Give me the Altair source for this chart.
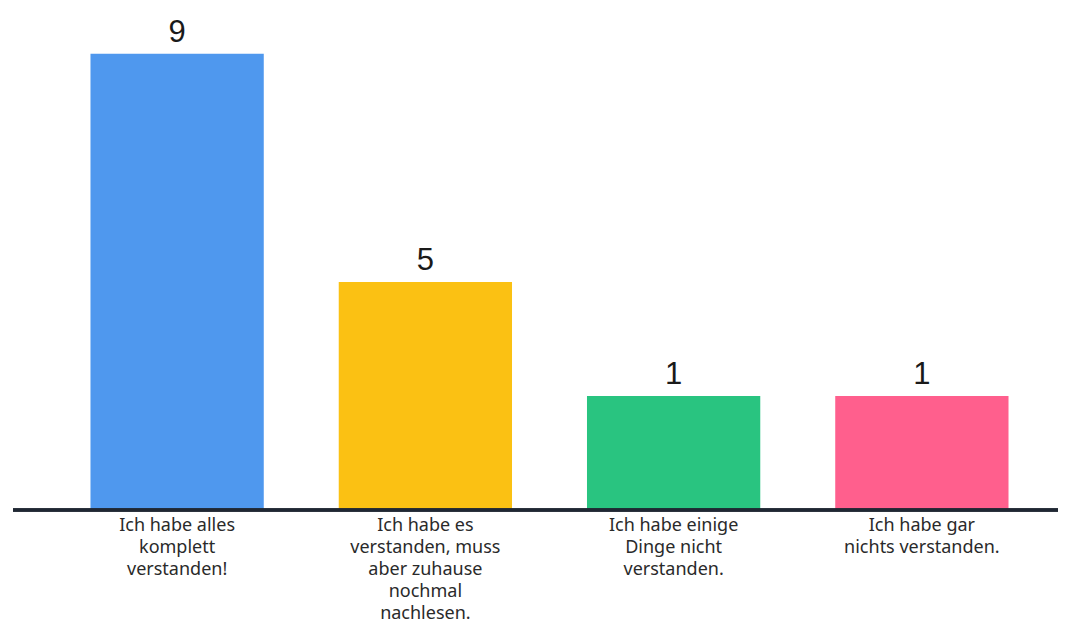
import altair as alt
import pandas as pd

# Data
categories = [
    "Ich habe alles|komplett|verstanden!",
    "Ich habe es|verstanden, muss|aber zuhause|nochmal|nachlesen.",
    "Ich habe einige|Dinge nicht|verstanden.",
    "Ich habe gar|nichts verstanden.",
]
values = [9, 5, 1, 1]
colors = ["#4F98EE", "#FBC113", "#29C480", "#FF5F8D"]

df = pd.DataFrame({"cat": categories, "value": values, "color": colors})

W, H = 993, 500
# nonlinear (pow) value scale, as the bar heights in the reference grow 1:2:4
EXP = 1.806
D0 = -4.688
DMAX = 9.61

yscale = alt.Scale(type="pow", exponent=EXP, domain=[D0, DMAX], nice=False, zero=False)
xenc = alt.X(
    "cat:N",
    sort=None,
    title=None,
    scale=alt.Scale(paddingInner=0.302, paddingOuter=0.151),
    axis=alt.Axis(
        labelExpr="split(datum.label, '|')",
        labelAngle=0,
        labelFont="Noto Sans",
        labelFontSize=18,
        labelLineHeight=22,
        labelColor="#2a2a2a",
        labelBaseline="top",
        labelPadding=6,
        labelLimit=0,
        ticks=False,
        domain=False,
        grid=False,
    ),
)

bars = alt.Chart(df).mark_bar().encode(
    x=xenc,
    y=alt.Y("value:Q", scale=yscale, axis=None, stack=None),
    y2=alt.value(H),
    color=alt.Color("color:N", scale=None, legend=None),
)

text = alt.Chart(df).mark_text(
    dy=-12, baseline="alphabetic", fontSize=31, font="Liberation Sans", color="#1a1a1a"
).encode(
    x=alt.X("cat:N", sort=None),
    y=alt.Y("value:Q", scale=yscale, axis=None, stack=None),
    text="value:Q",
)

baseline = alt.Chart(df).mark_rule(color="#1f2733", strokeWidth=3).encode(
    x=alt.value(-40), x2=alt.value(W + 12), y=alt.value(H)
)

chart = (
    alt.layer(bars, baseline, text)
    .properties(
        width=W,
        height=H,
        autosize=alt.AutoSizeParams(type="none"),
        padding={"left": 45, "top": 2, "right": 12, "bottom": 112},
        background="white",
    )
    .configure_view(stroke=None)
)

chart.save("out.html", embed_options={"renderer": "svg", "actions": False})
